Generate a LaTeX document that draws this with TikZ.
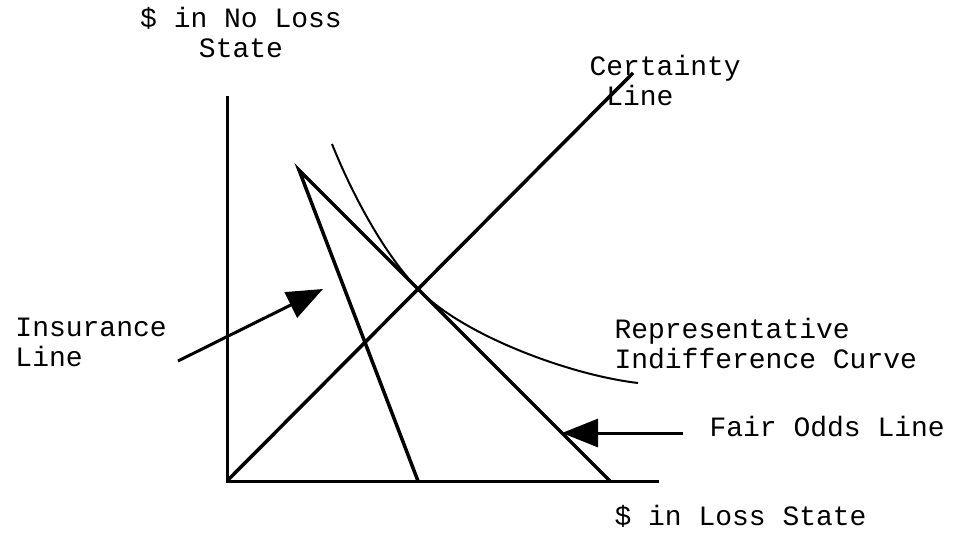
\documentclass[tikz,border=0pt]{standalone}
\usepackage{fontspec}
\setmonofont{Liberation Mono}
\usetikzlibrary{arrows.meta}
\tikzset{
  every picture/.style={line width=3pt},
  lbl/.style={font=\ttfamily\fontsize{28}{30}\selectfont, inner sep=0pt, align=left, anchor=base west},
  axis/.style={line width=3pt},
  budget/.style={line width=3.5pt},
  indiff/.style={line width=2pt},
  pointer/.style={-{Triangle[length=36pt, width=28pt]}, line width=3pt},
}

\begin{document}
\begin{tikzpicture}[x=1pt, y=-1pt]
  \useasboundingbox (0,0) rectangle (956,533);
  % axes
  \coordinate (O) at (227,481);
  \coordinate (ytop) at (227,96);
  \coordinate (xend) at (659,481);
  \draw[axis] (ytop) -- (O) -- (xend);
  % budget lines
  \coordinate (ctop) at (633,73);
  \coordinate (apex) at (299,170);
  \coordinate (ifoot) at (418,481);
  \coordinate (ffoot) at (610,481);
  \draw[budget] (O) -- (ctop);
  \draw[budget] (ifoot) -- (apex) -- (ffoot);
  % indifference curve, tangent to the fair odds line
  \coordinate (c0) at (332,144);
  \coordinate (ct) at (420,291);
  \coordinate (c1) at (638,383);
  \draw[indiff] (c0) .. controls (352,194) and (385,256) .. (ct)
                     .. controls (465,336) and (570,375) .. (c1);
  % labels (base = last line)
  \node[lbl, align=center, anchor=base] (yl) at (241,57) {\$ in No Loss\\State};
  \node[lbl] (cl) at (588,105) {Certainty\\\ Line};
  \node[lbl] (il) at (14,366) {Insurance\\Line};
  \node[lbl] (rl) at (613,368) {Representative\\Indifference Curve};
  \node[lbl] (fl) at (708,436) {Fair Odds Line};
  \node[lbl] (xl) at (613,525) {\$ in Loss State};
  % pointers
  \coordinate (p1) at (178,361);
  \coordinate (p1tip) at (323,289);
  \coordinate (p2) at (683,433);
  \coordinate (p2tip) at (562,433);
  \draw[pointer] (p1) -- (p1tip);
  \draw[pointer] (p2) -- (p2tip);
\end{tikzpicture}
\end{document}
